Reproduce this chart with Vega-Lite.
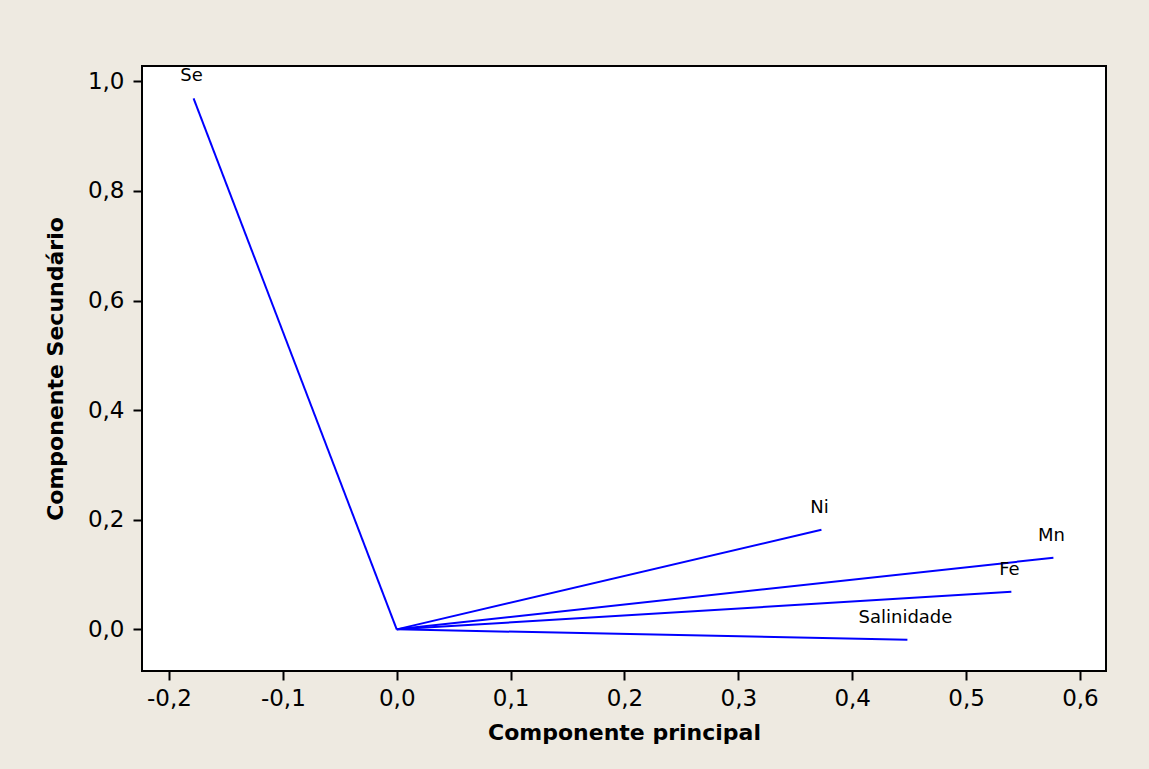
{
  "$schema": "https://vega.github.io/schema/vega-lite/v6.json",
  "autosize": {"type": "none"},
  "padding": {"left": 142, "top": 66, "right": 43, "bottom": 98},
  "width": 964,
  "height": 605,
  "background": "#EEEAE1",
  "config": {
    "view": {"fill": "white", "stroke": "black", "strokeWidth": 2},
    "axis": {
      "grid": false,
      "domain": false,
      "tickColor": "black",
      "tickWidth": 2,
      "tickSize": 9,
      "labelFont": "DejaVu Sans",
      "labelFontSize": 23,
      "labelColor": "black",
      "titleFont": "DejaVu Sans",
      "titleFontSize": 22,
      "titleFontWeight": "bold",
      "titleColor": "black"
    }
  },
  "data": {
    "values": [
      {"var": "Se", "x": -0.1784, "y": 0.969},
      {"var": "Ni", "x": 0.373, "y": 0.1817},
      {"var": "Mn", "x": 0.5767, "y": 0.1306},
      {"var": "Fe", "x": 0.5398, "y": 0.0686},
      {"var": "Salinidade", "x": 0.4485, "y": -0.019}
    ]
  },
  "layer": [
    {
      "mark": {"type": "rule", "color": "#0000FF", "strokeWidth": 2},
      "encoding": {
        "x": {
          "field": "x", "type": "quantitative",
          "scale": {"domain": [-0.2237, 0.6229], "nice": false, "zero": false},
          "axis": {
            "title": "Componente principal",
            "values": [-0.2, -0.1, 0, 0.1, 0.2, 0.3, 0.4, 0.5, 0.6],
            "labelExpr": "replace(replace(format(datum.value, '.1f'), '.', ','), '\u2212', '-')",
            "labelPadding": 7,
            "titlePadding": 12,
            "labelFlush": false,
            "labelOverlap": false
          }
        },
        "y": {
          "field": "y", "type": "quantitative",
          "scale": {"domain": [-0.076, 1.028], "nice": false, "zero": false},
          "axis": {
            "title": "Componente Secundário",
            "values": [0, 0.2, 0.4, 0.6, 0.8, 1.0],
            "labelExpr": "replace(replace(format(datum.value, '.1f'), '.', ','), '\u2212', '-')",
            "labelPadding": 9,
            "titlePadding": 20,
            "labelFlush": false,
            "labelOverlap": false
          }
        },
        "x2": {"datum": 0},
        "y2": {"datum": 0}
      }
    },
    {
      "mark": {"type": "text", "font": "DejaVu Sans", "fontSize": 18, "color": "black", "dy": -22, "dx": -2, "align": "center", "baseline": "middle"},
      "encoding": {
        "x": {"field": "x", "type": "quantitative"},
        "y": {"field": "y", "type": "quantitative"},
        "text": {"field": "var"}
      }
    }
  ]
}
